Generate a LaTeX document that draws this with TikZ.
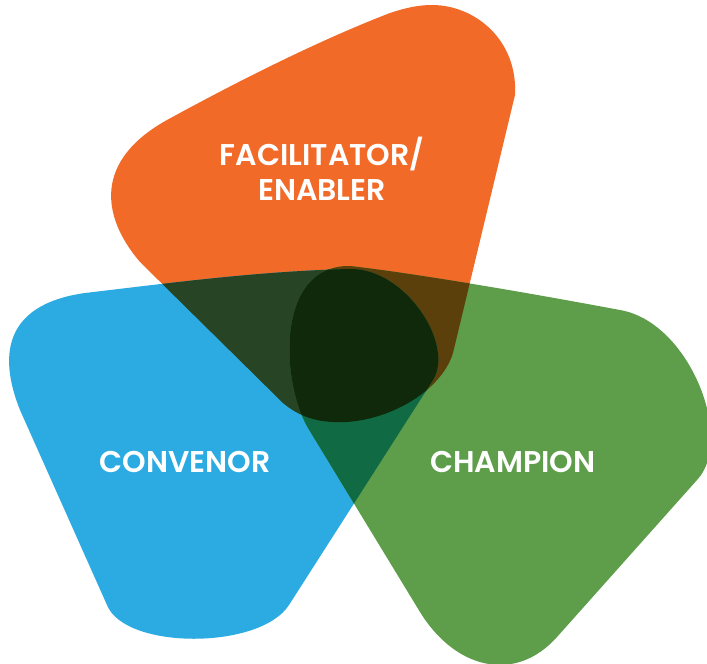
\documentclass[tikz,border=0pt]{standalone}
\usepackage{fontspec}
\newfontfamily\pop{Poppins SemiBold}
\definecolor{cO}{HTML}{F26A28}
\definecolor{cB}{HTML}{2BABE2}
\definecolor{cG}{HTML}{5E9E4B}
\definecolor{cOB}{HTML}{274424}
\definecolor{cOG}{HTML}{5B400C}
\definecolor{cBG}{HTML}{106B44}
\definecolor{cOBG}{HTML}{0F290A}
\def\pO{(167,120) .. controls (240,80) and (320,40) .. (390,13) .. controls (405,8) and (418,5) .. (432,5) .. controls (475,5) and (518,40) .. (515,95) -- (453,353) .. controls (440,395) and (380,425) .. (333,422) .. controls (310,421) and (295,413) .. (283,403) -- (140,262) .. controls (100,215) and (95,160) .. (167,120) -- cycle}
\def\pB{(85,293) .. controls (170,283) and (260,271) .. (350,269) .. controls (405,268) and (455,344) .. (433,380) -- (289,605) .. controls (260,650) and (125,650) .. (107,605) -- (20,410) .. controls (0,360) and (0,305) .. (85,293) -- cycle}
\def\pG{(350,266) .. controls (420,274) and (540,295) .. (620,310) .. controls (690,322) and (735,440) .. (697,480) -- (557,637) .. controls (515,684) and (455,669) .. (420,612) -- (308,428) .. controls (281,382) and (275,265) .. (350,266) -- cycle}
\tikzset{lbl/.style={text=white,font=\pop\fontsize{30}{35}\selectfont,anchor=base,inner sep=0pt}}
\begin{document}
\begin{tikzpicture}[x=1pt,y=-1pt]
\useasboundingbox (0,0) rectangle (707,664);
\clip (0,0) rectangle (707,664);
\fill[cO] \pO;
\fill[cB] \pB;
\fill[cG] \pG;
\begin{scope}\clip \pO; \fill[cOB] \pB; \end{scope}
\begin{scope}\clip \pO; \fill[cOG] \pG; \end{scope}
\begin{scope}\clip \pB; \fill[cBG] \pG; \end{scope}
\begin{scope}\clip \pO; \clip \pB; \fill[cOBG] \pG; \end{scope}
\node[lbl] (fac) at (322,165) {FACILITATOR/};
\node[lbl] (ena) at (322,200) {ENABLER};
\node[lbl] (con) at (185,472) {CONVENOR};
\node[lbl] (cha) at (513,472) {CHAMPION};
\end{tikzpicture}
\end{document}
